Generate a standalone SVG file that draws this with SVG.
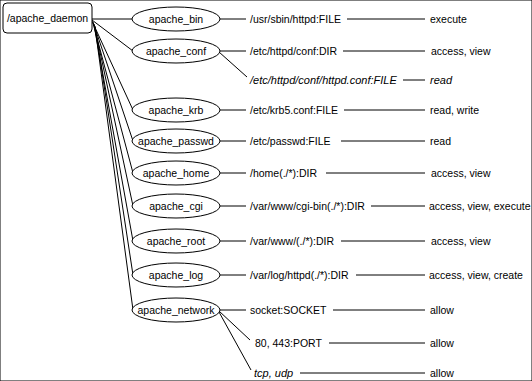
<svg xmlns="http://www.w3.org/2000/svg" width="532" height="381" viewBox="0 0 532 381">
<style>
text{font-family:"Liberation Sans",Arial,sans-serif;font-size:10.5px;fill:#000}
.m{text-anchor:middle}
.i{font-style:italic;font-size:11px}
ellipse,rect{fill:#fff;stroke:#000;stroke-width:1}
#connectors line{stroke:#000;stroke-width:1}
</style>
<rect width="532" height="381" fill="#fff" stroke="none"/>
<g id="connectors">
<line x1="92" y1="19" x2="132" y2="19"/>
<line x1="92" y1="20" x2="133" y2="51"/>
<line x1="92" y1="21" x2="133" y2="110"/>
<line x1="93" y1="22" x2="133" y2="141"/>
<line x1="93" y1="23" x2="133" y2="173"/>
<line x1="94" y1="24" x2="133" y2="206"/>
<line x1="94" y1="25" x2="133" y2="241"/>
<line x1="95" y1="26" x2="133" y2="275"/>
<line x1="95" y1="27" x2="133" y2="310"/>
<line x1="220" y1="19" x2="246" y2="19"/>
<line x1="220" y1="51" x2="246" y2="51"/>
<line x1="219" y1="52" x2="247" y2="77"/>
<line x1="220" y1="110" x2="246" y2="110"/>
<line x1="220" y1="141" x2="246" y2="141"/>
<line x1="220" y1="173" x2="246" y2="173"/>
<line x1="220" y1="206" x2="246" y2="206"/>
<line x1="220" y1="241" x2="246" y2="241"/>
<line x1="220" y1="275" x2="246" y2="275"/>
<line x1="220" y1="310" x2="246" y2="310"/>
<line x1="219" y1="311" x2="250" y2="340"/>
<line x1="219" y1="312" x2="251" y2="370"/>
<line x1="347" y1="19" x2="425" y2="19"/>
<line x1="343" y1="51" x2="425" y2="51"/>
<line x1="403" y1="80" x2="425" y2="80"/>
<line x1="344" y1="110" x2="425" y2="110"/>
<line x1="341" y1="141" x2="425" y2="141"/>
<line x1="326" y1="173" x2="425" y2="173"/>
<line x1="371" y1="206" x2="425" y2="206"/>
<line x1="341" y1="241" x2="425" y2="241"/>
<line x1="356" y1="275" x2="425" y2="275"/>
<line x1="333" y1="310" x2="425" y2="310"/>
<line x1="329" y1="343" x2="425" y2="343"/>
<line x1="300" y1="373" x2="425" y2="373"/>
</g>
<g id="apache_daemon"><rect x="3" y="3" width="89" height="30" rx="4"/><text class="m" x="47.5" y="22">/apache_daemon</text></g>
<g id="apache_bin"><ellipse cx="176" cy="19" rx="44" ry="12"/><text class="m" x="176" y="23">apache_bin</text></g>
<g id="apache_conf"><ellipse cx="176" cy="51" rx="44" ry="12"/><text class="m" x="176" y="55">apache_conf</text></g>
<g id="apache_krb"><ellipse cx="176" cy="110" rx="44" ry="12"/><text class="m" x="176" y="114">apache_krb</text></g>
<g id="apache_passwd"><ellipse cx="176" cy="141" rx="44" ry="12"/><text class="m" x="176" y="145">apache_passwd</text></g>
<g id="apache_home"><ellipse cx="176" cy="173" rx="44" ry="12"/><text class="m" x="176" y="177">apache_home</text></g>
<g id="apache_cgi"><ellipse cx="176" cy="206" rx="44" ry="12"/><text class="m" x="176" y="210">apache_cgi</text></g>
<g id="apache_root"><ellipse cx="176" cy="241" rx="44" ry="12"/><text class="m" x="176" y="245">apache_root</text></g>
<g id="apache_log"><ellipse cx="176" cy="275" rx="44" ry="12"/><text class="m" x="176" y="279">apache_log</text></g>
<g id="apache_network"><ellipse cx="176" cy="310" rx="44" ry="12"/><text class="m" x="176" y="314">apache_network</text></g>
<g id="res_bin"><text x="250" y="23">/usr/sbin/httpd:FILE</text></g>
<g id="res_conf_dir"><text x="250" y="55">/etc/httpd/conf:DIR</text></g>
<g id="res_conf_file"><text class="i" x="250" y="84">/etc/httpd/conf/httpd.conf:FILE</text></g>
<g id="res_krb"><text x="250" y="114">/etc/krb5.conf:FILE</text></g>
<g id="res_passwd"><text x="250" y="145">/etc/passwd:FILE</text></g>
<g id="res_home"><text x="250" y="177">/home(./*):DIR</text></g>
<g id="res_cgi"><text x="250" y="210">/var/www/cgi-bin(./*):DIR</text></g>
<g id="res_root"><text x="250" y="245">/var/www/(./*):DIR</text></g>
<g id="res_log"><text x="250" y="279">/var/log/httpd(./*):DIR</text></g>
<g id="res_socket"><text x="250" y="314">socket:SOCKET</text></g>
<g id="res_port"><text x="255" y="347">80, 443:PORT</text></g>
<g id="res_tcp"><text class="i" x="254" y="377">tcp, udp</text></g>
<g id="perm_bin"><text x="430" y="23">execute</text></g>
<g id="perm_conf_dir"><text x="431" y="55">access, view</text></g>
<g id="perm_conf_file"><text class="i" x="430" y="84">read</text></g>
<g id="perm_krb"><text x="430" y="114">read, write</text></g>
<g id="perm_passwd"><text x="430" y="145">read</text></g>
<g id="perm_home"><text x="431" y="177">access, view</text></g>
<g id="perm_cgi"><text x="429" y="210">access, view, execute</text></g>
<g id="perm_root"><text x="431" y="245">access, view</text></g>
<g id="perm_log"><text x="429" y="279">access, view, create</text></g>
<g id="perm_socket"><text x="430" y="314">allow</text></g>
<g id="perm_port"><text x="430" y="347">allow</text></g>
<g id="perm_tcp"><text x="430" y="377">allow</text></g>
</svg>
